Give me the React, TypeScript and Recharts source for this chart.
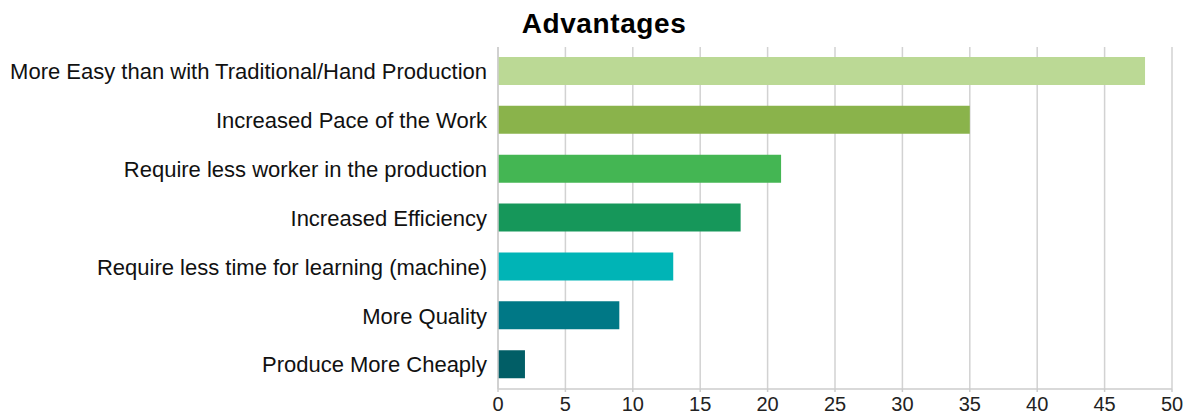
import { Bar, BarChart, CartesianGrid, Cell, XAxis, YAxis } from "recharts";

// Survey answers, top to bottom
const categories = [
  "More Easy than with Traditional/Hand Production",
  "Increased Pace of the Work",
  "Require less worker in the production",
  "Increased Efficiency",
  "Require less time for learning (machine)",
  "More Quality",
  "Produce More Cheaply",
];
const counts = [48, 35, 21, 18, 13, 9, 2];
const barColors = ["#bbd995", "#8ab34b", "#44b653", "#16975a", "#00b4b6", "#007886", "#015e66"];
const xTicks = [0, 5, 10, 15, 20, 25, 30, 35, 40, 45, 50];

const data = categories.map((name, i) => ({ name, value: counts[i] }));

const font = "Helvetica, Arial, 'Liberation Sans', sans-serif";

export default function App() {
  return (
    <div style={{ position: "absolute", left: 0, top: 0, width: 1201, height: 417, background: "#fff" }}>
      <div
        style={{
          position: "absolute",
          top: 8,
          left: 0,
          width: 1208,
          textAlign: "center",
          fontFamily: font,
          fontWeight: "bold",
          fontSize: 28,
          letterSpacing: 0.6,
          color: "#000",
        }}
      >
        Advantages
      </div>
      <BarChart
        width={1201}
        height={417}
        data={data}
        layout="vertical"
        margin={{ top: 47, right: 29, bottom: 0, left: 0 }}
        barCategoryGap={0}
      >
        <CartesianGrid horizontal={false} stroke="#d2d2d2" strokeWidth={1.5} />
        <XAxis
          type="number"
          domain={[0, 50]}
          ticks={xTicks}
          height={28}
          tickSize={3}
          tickMargin={5}
          stroke="#cccccc"
          strokeWidth={1.5}
          tick={{ fill: "#222", fontSize: 20, fontFamily: font }}
          interval={0}
        />
        <YAxis
          type="category"
          dataKey="name"
          width={498}
          tickLine={false}
          tickSize={9}
          tickMargin={2}
          stroke="#cccccc"
          strokeWidth={1.5}
          tick={{ fill: "#111", fontSize: 22, fontFamily: font }}
          interval={0}
        />
        <Bar dataKey="value" barSize={28} isAnimationActive={false}>
          {data.map((d, i) => (
            <Cell key={d.name} fill={barColors[i]} />
          ))}
        </Bar>
      </BarChart>
    </div>
  );
}
